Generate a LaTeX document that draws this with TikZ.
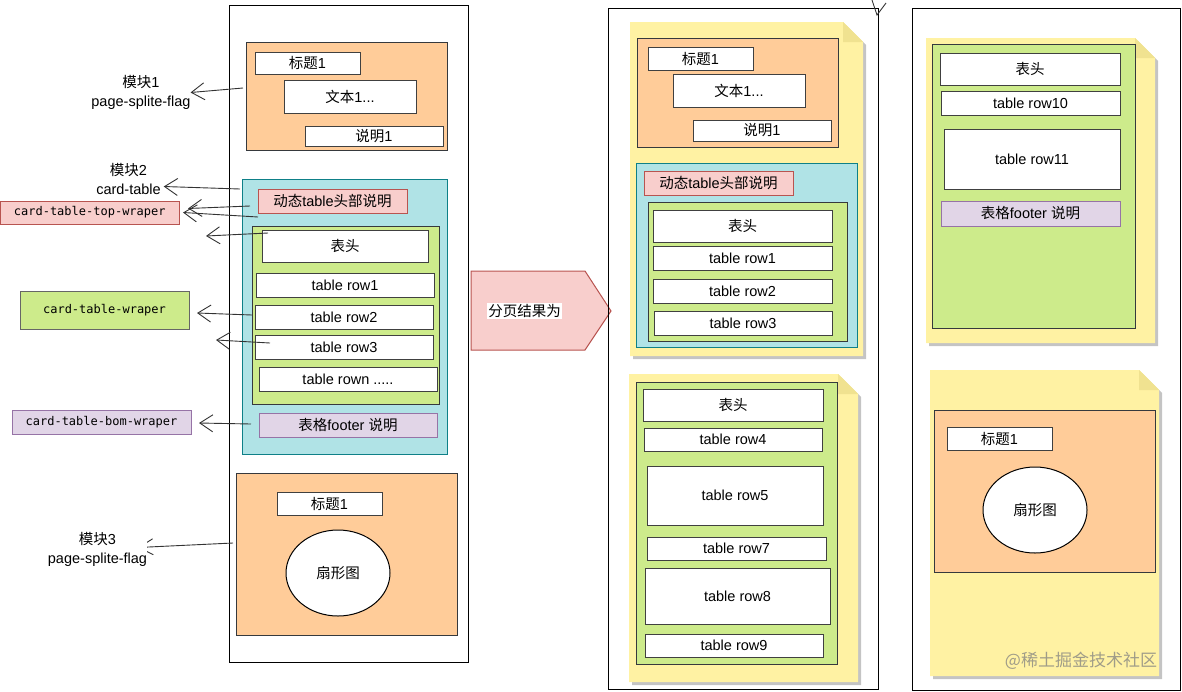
\documentclass[tikz,border=0pt]{standalone}
\usepackage{fontspec}
\setmainfont{Liberation Sans}
\newfontfamily\cjk{Noto Sans CJK SC}
\newfontfamily\monof{DejaVu Sans Mono}
\usetikzlibrary{arrows.meta,shapes.geometric}
\pgfdeclarelayer{front}
\pgfsetlayers{main,front}
\newcommand\zh[1]{{\cjk #1}}
\definecolor{orangef}{HTML}{FFCC99}
\definecolor{darkst}{HTML}{36393D}
\definecolor{cyanf}{HTML}{B0E3E6}
\definecolor{cyans}{HTML}{0E8088}
\definecolor{redf}{HTML}{F8CECC}
\definecolor{reds}{HTML}{B85450}
\definecolor{greenf}{HTML}{CDEB8B}
\definecolor{purpf}{HTML}{E1D5E7}
\definecolor{purps}{HTML}{9673A6}
\definecolor{notey}{HTML}{FFF2A3}
\definecolor{notefold}{HTML}{F0E290}
\definecolor{shadowc}{HTML}{C4C4C4}
\definecolor{arrc}{HTML}{333333}
\newcommand\bx[7]{\node[#6, minimum width={(#4)-(#2)}, minimum height={(#5)-(#3)}] (#1) at ({((#2)+(#4))/2},{((#3)+(#5))/2}) {#7};}
\newcommand\notebox[5]{%
  \fill[shadowc] ({#1+3},{#2+3}) -- ({#3-#5+3},{#2+3}) -- ({#3+3},{#2+#5+3}) -- ({#3+3},{#4+3}) -- ({#1+3},{#4+3}) -- cycle;
  \fill[notey] (#1,#2) -- ({#3-#5},#2) -- (#3,{#2+#5}) -- (#3,#4) -- (#1,#4) -- cycle;
  \fill[notefold] ({#3-#5},#2) -- ({#3-#5},{#2+#5}) -- (#3,{#2+#5}) -- cycle;}
\tikzset{
  pageframe/.style={draw=black, line width=1pt},
  orangebox/.style={fill=orangef, draw=darkst, line width=1pt},
  cyanbox/.style={fill=cyanf, draw=cyans, line width=1pt},
  redbox/.style={fill=redf, draw=reds, line width=1pt},
  greenbox/.style={fill=greenf, draw=darkst, line width=1pt},
  purplebox/.style={fill=purpf, draw=purps, line width=1pt},
  wbox/.style={fill=white, draw=black!75, line width=1pt},
  monolbl/.style={font=\monof\fontsize{12}{14}\selectfont},
  lbl/.style={align=center},
  arr/.style={draw=arrc, line width=0.9pt, -{Straight Barb[length=13pt,width=17pt]}},
  smallarr/.style={draw=arrc, line width=0.9pt, -{Straight Barb[length=14pt,width=16pt]}},
}
\begin{document}
\begin{tikzpicture}[x=1pt, y=-1pt, inner sep=0pt, outer sep=0pt, font=\fontsize{14.5}{19}\selectfont]
\useasboundingbox (0,0) rectangle (1182,691);

% ---------- left page ----------
\bx{frameL}{229}{5}{468}{662}{pageframe}{}
\bx{m1}{246}{42}{447}{150}{orangebox}{}
\bx{m1t}{255}{52}{360}{74}{wbox}{\zh{标题}1}
\bx{m1x}{284}{80}{416}{113}{wbox}{\zh{文本}1...}
\bx{m1s}{305}{126}{443}{146}{wbox}{\zh{说明}1}
\bx{m2}{242}{179}{447}{454}{cyanbox}{}
\bx{m2h}{258}{189}{407}{213}{redbox}{\zh{动态}table\zh{头部说明}}
\bx{m2g}{252}{226}{439}{404}{greenbox}{}
\bx{m2hd}{262}{230}{428}{262}{wbox}{\zh{表头}}
\bx{r1}{256}{273}{434}{297}{wbox}{table row1}
\bx{r2}{255}{305}{433}{329}{wbox}{table row2}
\bx{r3}{255}{335}{433}{359}{wbox}{table row3}
\bx{rn}{259}{367}{437}{391}{wbox}{table rown .....}
\bx{m2f}{259}{413}{437}{437}{purplebox}{\zh{表格}footer \zh{说明}}
\bx{m3}{236}{473}{457}{635}{orangebox}{}
\bx{m3t}{277}{492}{382}{515}{wbox}{\zh{标题}1}
\node[ellipse, fill=white, draw=black, line width=1pt, minimum width=104, minimum height=86] (m3e) at (338,573) {\zh{扇形图}};

% ---------- left labels ----------
\node[lbl] (lab1) at (141,92.5) {\zh{模块}1\\page-splite-flag};
\node[lbl] (lab2) at (128.5,178.5) {\zh{模块}2\\card-table};
\bx{tw}{0.5}{201}{179}{224}{redbox, monolbl}{card-table-top-wraper}
\bx{cw}{20}{291}{189}{329}{greenbox, draw=black!60, monolbl}{card-table-wraper}
\bx{bw}{12}{410}{191}{434}{purplebox, monolbl}{card-table-bom-wraper}
\begin{pgfonlayer}{front}
\node[lbl, fill=white] (lab3) at (97.5,549.5) {\zh{模块}3\\page-splite-flag};
\end{pgfonlayer}

\coordinate (s1) at (243,88);
\coordinate (s2) at (240,189);
\coordinate (s3) at (250,206);
\coordinate (s4) at (258,217);
\coordinate (s5) at (268,233);
\coordinate (t5) at (206,236);
\coordinate (s6) at (252,315);
\coordinate (s7) at (270,343);
\coordinate (t7) at (216,340);
\coordinate (s8) at (251,424);
\coordinate (s9) at (233,543);

\draw[arr] (s1) -- (lab1.east);
\draw[arr] (s2) -- ([xshift=3pt,yshift=-8pt]lab2.east);
\draw[arr] (s3) -- ([xshift=9pt,yshift=4pt]tw.east);
\draw[arr] (s4) -- ([xshift=4pt]tw.east);
\draw[arr] (s5) -- (t5);
\draw[arr] (s6) -- ([xshift=8pt,yshift=-3pt]cw.east);
\draw[arr] (s7) -- (t7);
\draw[arr] (s8) -- ([xshift=8pt,yshift=-1pt]bw.east);
\draw[smallarr] (s9) -- ([xshift=-9pt,yshift=2pt]lab3.east);

% ---------- big arrow ----------
\draw[fill=redf, draw=reds, line width=1pt] (471,271) -- (585,271) -- (611,311) -- (585,350) -- (471,350) -- cycle;
\node[fill=white, inner sep=1pt] (arrtxt) at (524.5,311) {\zh{分页结果为}};

% ---------- middle page ----------
\bx{frameM}{608}{8}{878}{689}{pageframe}{}
\coordinate (v1) at (872,0);
\coordinate (v2) at (877,15);
\coordinate (v3) at (886,3);
\draw[draw=arrc, line width=0.9pt] (v1) -- (v2) -- (v3);

\notebox{630}{22}{863}{356}{20}
\bx{a1}{637}{38}{838}{147}{orangebox}{}
\bx{a1t}{648}{47}{753}{70}{wbox}{\zh{标题}1}
\bx{a1x}{673}{74}{805}{107}{wbox}{\zh{文本}1...}
\bx{a1s}{693}{120}{831}{141}{wbox}{\zh{说明}1}
\bx{a2}{636}{163}{857}{347}{cyanbox}{}
\bx{a2h}{644}{171}{793}{195}{redbox}{\zh{动态}table\zh{头部说明}}
\bx{a2g}{648}{202}{847}{341}{greenbox}{}
\bx{a2hd}{653}{210}{832}{242}{wbox}{\zh{表头}}
\bx{ar1}{653}{246}{832}{270}{wbox}{table row1}
\bx{ar2}{653}{279}{832}{303}{wbox}{table row2}
\bx{ar3}{654}{311}{832}{335}{wbox}{table row3}

\notebox{629}{374}{858}{682}{20}
\bx{b1}{636}{382}{837}{664}{greenbox}{}
\bx{b1hd}{643}{389}{823}{421}{wbox}{\zh{表头}}
\bx{br4}{644}{428}{822}{451}{wbox}{table row4}
\bx{br5}{647}{466}{823}{525}{wbox}{table row5}
\bx{br7}{647}{537}{826}{560}{wbox}{table row7}
\bx{br8}{645}{568}{830}{624}{wbox}{table row8}
\bx{br9}{645}{634}{823}{657}{wbox}{table row9}

% ---------- right page ----------
\bx{frameR}{912}{8}{1180.5}{690}{pageframe}{}
\notebox{926}{38}{1155}{343}{20}
\bx{c1}{932}{44}{1135}{328}{greenbox}{}
\bx{c1hd}{940}{53}{1120}{85}{wbox}{\zh{表头}}
\bx{cr10}{941}{91}{1120}{115}{wbox}{table row10}
\bx{cr11}{944}{129}{1120}{189}{wbox}{table row11}
\bx{c1f}{941}{201}{1120}{226}{purplebox}{\zh{表格}footer \zh{说明}}

\notebox{930}{370}{1159}{676}{20}
\bx{d1}{934}{410}{1155}{572}{orangebox}{}
\bx{d1t}{947}{427}{1052}{450}{wbox}{\zh{标题}1}
\node[ellipse, fill=white, draw=black, line width=1pt, minimum width=104, minimum height=86] (d1e) at (1035,510) {\zh{扇形图}};

\node[font=\cjk\fontsize{17}{17}\selectfont, text=gray, opacity=0.75] (wm) at (1081,661) {@稀土掘金技术社区};
\end{tikzpicture}
\end{document}
